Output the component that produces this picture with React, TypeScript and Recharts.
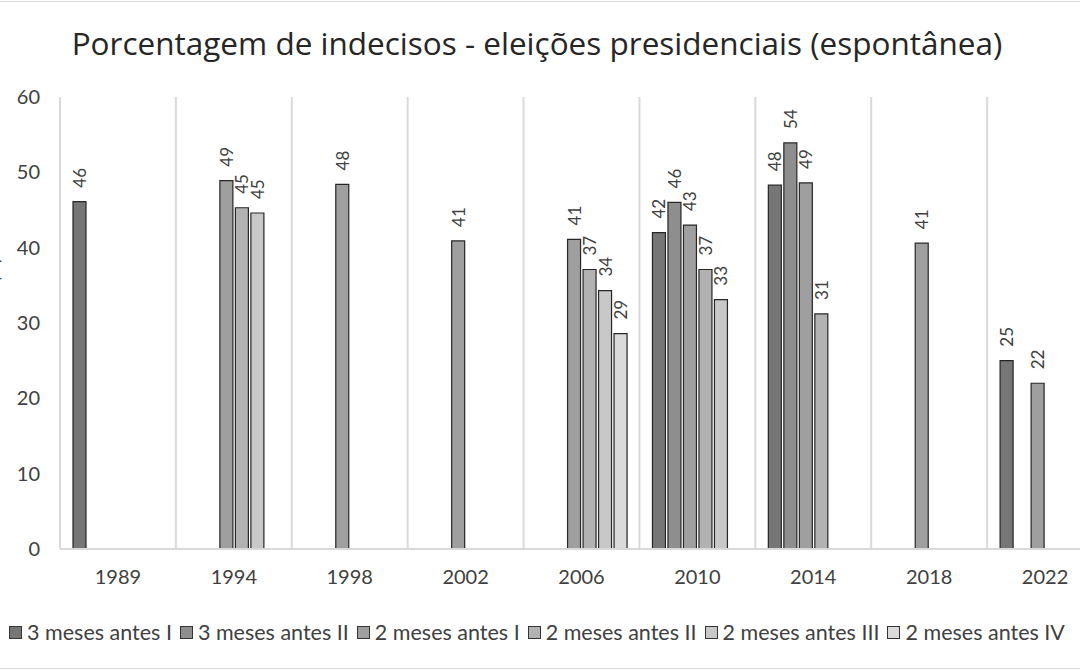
import { Bar, BarChart, CartesianGrid, LabelList, Legend, XAxis, YAxis } from 'recharts';

const categories = ['1989', '1994', '1998', '2002', '2006', '2010', '2014', '2018', '2022'];
const seriesNames = [
  '3 meses antes I',
  '3 meses antes II',
  '2 meses antes I',
  '2 meses antes II',
  '2 meses antes III',
  '2 meses antes IV',
];
const tresMesesI = [46.1, null, null, null, null, 42.0, 48.3, null, 25.0];
const tresMesesII = [null, null, null, null, null, 46.0, 53.9, null, null];
const doisMesesI = [null, 48.9, 48.4, 40.9, 41.1, 43.0, 48.6, 40.6, 22.0];
const doisMesesII = [null, 45.3, null, null, 37.1, 37.1, 31.2, null, null];
const doisMesesIII = [null, 44.6, null, null, 34.3, 33.1, null, null, null];
const doisMesesIV = [null, null, null, null, 28.6, null, null, null, null];
const yTicks = [0, 10, 20, 30, 40, 50, 60];

const colors = ['#767676', '#8e8e8e', '#9f9f9f', '#b2b2b2', '#c8c8c8', '#dadada'];
const seriesValues = [tresMesesI, tresMesesII, doisMesesI, doisMesesII, doisMesesIII, doisMesesIV];
const keys = seriesNames.map((_, i) => `s${i}`);

const data = categories.map((year, i) => {
  const row: Record<string, string | number | null> = { year };
  keys.forEach((k, j) => {
    row[k] = seriesValues[j][i];
  });
  return row;
});

const textColor = '#404040';
const font = 'Lato, "Open Sans", sans-serif';

const ValueLabel = (props: any) => {
  const { x, y, width, value } = props;
  if (value == null) return null;
  const cx = Number(x) + Number(width) / 2;
  const ty = Number(y) - 14;
  return (
    <text
      x={cx}
      y={ty}
      transform={`rotate(-90, ${cx}, ${ty})`}
      textAnchor="start"
      dominantBaseline="central"
      fontSize={17}
      fontFamily={font}
      fill={textColor}
    >
      {Math.round(Number(value))}
    </text>
  );
};

const renderLegend = () => (
  <div
    style={{
      display: 'flex',
      justifyContent: 'center',
      alignItems: 'center',
      height: 36,
      fontFamily: font,
      fontSize: 21.5,
      color: textColor,
      whiteSpace: 'nowrap',
    }}
  >
    {seriesNames.map((name, i) => (
      <span key={name} style={{ display: 'inline-flex', alignItems: 'center', marginRight: 8 }}>
        <span
          style={{
            display: 'inline-block',
            width: 11,
            height: 11,
            background: colors[i],
            border: '1px solid #333',
            marginRight: 5,
          }}
        />
        {name}
      </span>
    ))}
  </div>
);

export default function App() {
  return (
    <div
      style={{
        position: 'absolute',
        top: 0,
        left: 0,
        width: 1080,
        height: 671,
        overflow: 'hidden',
        background: '#fff',
      }}
    >
      <div style={{ position: 'absolute', top: 1, left: 0, width: 1080, height: 1, background: '#d9d9d9' }} />
      <div style={{ position: 'absolute', top: 668, left: 0, width: 1080, height: 1, background: '#d9d9d9' }} />
      <div
        style={{
          position: 'absolute',
          top: 23,
          left: 0,
          width: 1074,
          textAlign: 'center',
          fontFamily: '"Open Sans", sans-serif',
          fontSize: 31.5,
          lineHeight: '40px',
          color: '#262626',
          whiteSpace: 'nowrap',
        }}
      >
        Porcentagem de indecisos - eleições presidenciais (espontânea)
      </div>
      <div style={{ position: 'absolute', top: 0, left: 0 }}>
        <BarChart
          width={1123}
          height={671}
          data={data}
          margin={{ top: 97, right: 20, left: 0, bottom: 21 }}
          barCategoryGap={13}
          barGap={2.5}
        >
          <CartesianGrid
            horizontal={false}
            stroke="#d9d9d9"
            strokeWidth={2}
            verticalCoordinatesGenerator={({ offset }: any) =>
              [...categories, ''].map((_, i) => offset.left + (i * offset.width) / categories.length)
            }
          />
          <XAxis
            dataKey="year"
            axisLine={{ stroke: '#d9d9d9', strokeWidth: 2 }}
            tickLine={false}
            height={65}
            tickMargin={15}
            tick={{ fontSize: 20, fontFamily: font, fill: textColor }}
          />
          <YAxis
            domain={[0, 60]}
            ticks={yTicks}
            width={60}
            axisLine={false}
            tickLine={false}
            tickMargin={14}
            tick={{ fontSize: 20, fontFamily: font, fill: textColor }}
            label={{
              content: () => (
                <text
                  x={-1}
                  y={270}
                  transform="rotate(-90, -1, 270)"
                  textAnchor="middle"
                  fontSize={18}
                  fontFamily={font}
                  fill={textColor}
                >
                  (%)
                </text>
              ),
            }}
          />
          <Legend
            verticalAlign="bottom"
            content={renderLegend}
            wrapperStyle={{ left: 0, width: 1082 }}
          />
          {keys.map((k, i) => (
            <Bar
              key={k}
              dataKey={k}
              name={seriesNames[i]}
              fill={colors[i]}
              stroke="#262626"
              strokeWidth={1.2}
              isAnimationActive={false}
            >
              <LabelList dataKey={k} content={ValueLabel} />
            </Bar>
          ))}
        </BarChart>
      </div>
    </div>
  );
}
